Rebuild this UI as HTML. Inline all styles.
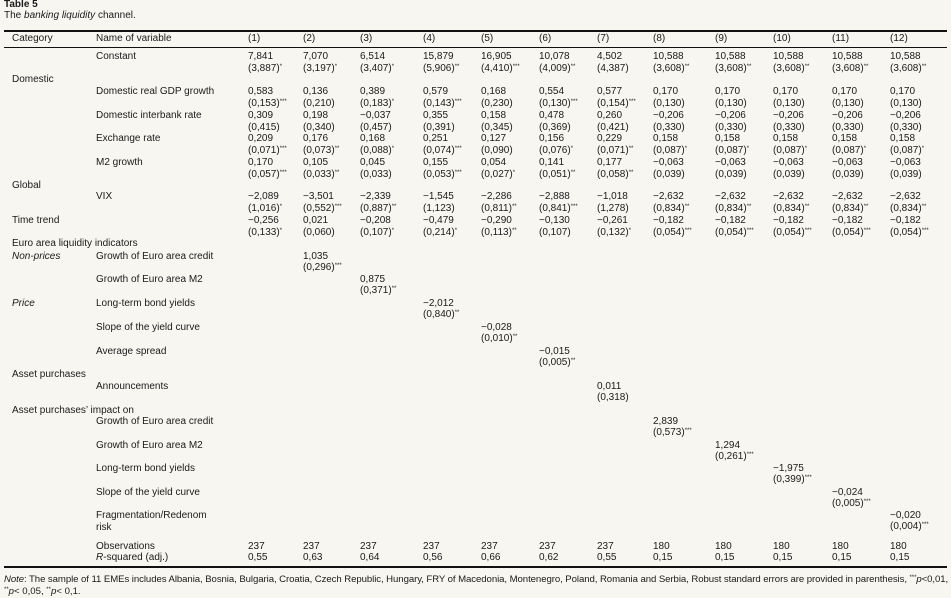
<!DOCTYPE html>
<html><head><meta charset="utf-8">
<style>
html,body{margin:0;padding:0;}
body{width:951px;height:596px;background:#f8f6f1;position:relative;overflow:hidden;font-family:"Liberation Sans",sans-serif;font-size:10px;color:#1a1a1a;}
.t{position:absolute;white-space:nowrap;line-height:12px;}
.rule{position:absolute;left:4px;width:943px;background:#111;}
sup{font-size:6px;vertical-align:top;line-height:8px;}
</style></head><body>
<div class="t" style="left:4px;top:-1px;font-weight:bold;">Table 5</div>
<div class="t" style="left:4px;top:10px;">The <i>banking liquidity</i> channel.</div>
<div class="rule" style="top:30px;height:1.5px;"></div>
<div class="rule" style="top:47px;height:1px;"></div>
<div class="rule" style="top:566px;height:1.5px;"></div>
<div id="tbl"></div>
<div class="t" style="left:4px;top:574px;font-size:9.6px;letter-spacing:-0.07px;"><i>Note</i>: The sample of 11 EMEs includes Albania, Bosnia, Bulgaria, Croatia, Czech Republic, Hungary, FRY of Macedonia, Montenegro, Poland, Romania and Serbia, Robust standard errors are provided in parenthesis, <sup>***</sup><i>p</i>&lt;0,01,</div>
<div class="t" style="left:4px;top:586px;font-size:9.6px;"><sup>**</sup><i>p</i>&lt; 0,05, <sup>**</sup><i>p</i>&lt; 0,1.</div>
<script>
const colX=[248,303,360,423,481,539,597,653,715,773,832,890];
const headers=["(1)","(2)","(3)","(4)","(5)","(6)","(7)","(8)","(9)","(10)","(11)","(12)"];
const rows=[
 {y:57,cat:"",name:"Constant",v:["7,841","7,070","6,514","15,879","16,905","10,078","4,502","10,588","10,588","10,588","10,588","10,588"],s:["(3,887)*","(3,197)*","(3,407)*","(5,906)**","(4,410)***","(4,009)**","(4,387)","(3,608)**","(3,608)**","(3,608)**","(3,608)**","(3,608)**"]},
 {y:80,cat:"Domestic"},
 {y:92,name:"Domestic real GDP growth",v:["0,583","0,136","0,389","0,579","0,168","0,554","0,577","0,170","0,170","0,170","0,170","0,170"],s:["(0,153)***","(0,210)","(0,183)*","(0,143)***","(0,230)","(0,130)***","(0,154)***","(0,130)","(0,130)","(0,130)","(0,130)","(0,130)"]},
 {y:116,name:"Domestic interbank rate",v:["0,309","0,198","\u22120,037","0,355","0,158","0,478","0,260","\u22120,206","\u22120,206","\u22120,206","\u22120,206","\u22120,206"],s:["(0,415)","(0,340)","(0,457)","(0,391)","(0,345)","(0,369)","(0,421)","(0,330)","(0,330)","(0,330)","(0,330)","(0,330)"]},
 {y:139,name:"Exchange rate",v:["0,209","0,176","0,168","0,251","0,127","0,156","0,229","0,158","0,158","0,158","0,158","0,158"],s:["(0,071)***","(0,073)**","(0,088)*","(0,074)***","(0,090)","(0,076)*","(0,071)**","(0,087)*","(0,087)*","(0,087)*","(0,087)*","(0,087)*"]},
 {y:163,name:"M2 growth",v:["0,170","0,105","0,045","0,155","0,054","0,141","0,177","\u22120,063","\u22120,063","\u22120,063","\u22120,063","\u22120,063"],s:["(0,057)***","(0,033)**","(0,033)","(0,053)***","(0,027)*","(0,051)**","(0,058)**","(0,039)","(0,039)","(0,039)","(0,039)","(0,039)"]},
 {y:186,cat:"Global"},
 {y:197,name:"VIX",v:["\u22122,089","\u22123,501","\u22122,339","\u22121,545","\u22122,286","\u22122,888","\u22121,018","\u22122,632","\u22122,632","\u22122,632","\u22122,632","\u22122,632"],s:["(1,016)*","(0,552)***","(0,887)**","(1,123)","(0,811)**","(0,841)***","(1,278)","(0,834)**","(0,834)**","(0,834)**","(0,834)**","(0,834)**"]},
 {y:221,cat:"Time trend",v:["\u22120,256","0,021","\u22120,208","\u22120,479","\u22120,290","\u22120,130","\u22120,261","\u22120,182","\u22120,182","\u22120,182","\u22120,182","\u22120,182"],s:["(0,133)*","(0,060)","(0,107)*","(0,214)*","(0,113)**","(0,107)","(0,132)*","(0,054)***","(0,054)***","(0,054)***","(0,054)***","(0,054)***"]},
 {y:244,cat:"Euro area liquidity indicators"},
 {y:257,cat:"Non-prices",it:1,name:"Growth of Euro area credit",col:1,v1:"1,035",s1:"(0,296)***"},
 {y:280,name:"Growth of Euro area M2",col:2,v1:"0,875",s1:"(0,371)**"},
 {y:304,cat:"Price",it:1,name:"Long-term bond yields",col:3,v1:"\u22122,012",s1:"(0,840)**"},
 {y:328,name:"Slope of the yield curve",col:4,v1:"\u22120,028",s1:"(0,010)**"},
 {y:352,name:"Average spread",col:5,v1:"\u22120,015",s1:"(0,005)**"},
 {y:375,cat:"Asset purchases"},
 {y:387,name:"Announcements",col:6,v1:"0,011",s1:"(0,318)"},
 {y:411,cat:"Asset purchases\u2019 impact on"},
 {y:422,name:"Growth of Euro area credit",col:7,v1:"2,839",s1:"(0,573)***"},
 {y:446,name:"Growth of Euro area M2",col:8,v1:"1,294",s1:"(0,261)***"},
 {y:469,name:"Long-term bond yields",col:9,v1:"\u22121,975",s1:"(0,399)***"},
 {y:493,name:"Slope of the yield curve",col:10,v1:"\u22120,024",s1:"(0,005)***"},
 {y:516,name:"Fragmentation/Redenom",name2:"risk",col:11,v1:"\u22120,020",s1:"(0,004)***"}
];
const obs=["237","237","237","237","237","237","237","180","180","180","180","180"];
const r2=["0,55","0,63","0,64","0,56","0,66","0,62","0,55","0,15","0,15","0,15","0,15","0,15"];
const tbl=document.getElementById('tbl');
function fmt(s){return s.replace(/(\*+)$/,'<sup>$1</sup>');}
function add(x,y,html,name){
 const d=document.createElement('div');
 d.className='t';
 d.style.left=x+'px';d.style.top=(y-6)+'px';
 d.innerHTML=html;
 
 
 tbl.appendChild(d);return d;
}
add(12,39,'Category','header-category');
add(96,39,'Name of variable','header-variable');
headers.forEach((h,i)=>add(colX[i],39,h,'header-col-'+(i+1)));
rows.forEach((r,ri)=>{
 if(r.cat) add(12,r.y,r.it?'<i>'+r.cat+'</i>':r.cat,'category-label');
 if(r.name) add(96,r.y,r.name,'variable-name');
 if(r.name2) add(96,r.y+12,r.name2,'variable-name-cont');
 if(r.v){r.v.forEach((v,i)=>{add(colX[i],r.y,v,'coef-value');add(colX[i],r.y+12,fmt(r.s[i]),'std-error');});}
 if(r.v1){add(colX[r.col],r.y,r.v1,'coef-value');add(colX[r.col],r.y+11,fmt(r.s1),'std-error');}
});
add(96,547,'Observations','observations-label');
add(96,558,'<i>R</i>-squared (adj.)','r-squared-label');
obs.forEach((v,i)=>add(colX[i],547,v,'observations-value'));
r2.forEach((v,i)=>add(colX[i],558,v,'r-squared-value'));
</script>
</body></html>
